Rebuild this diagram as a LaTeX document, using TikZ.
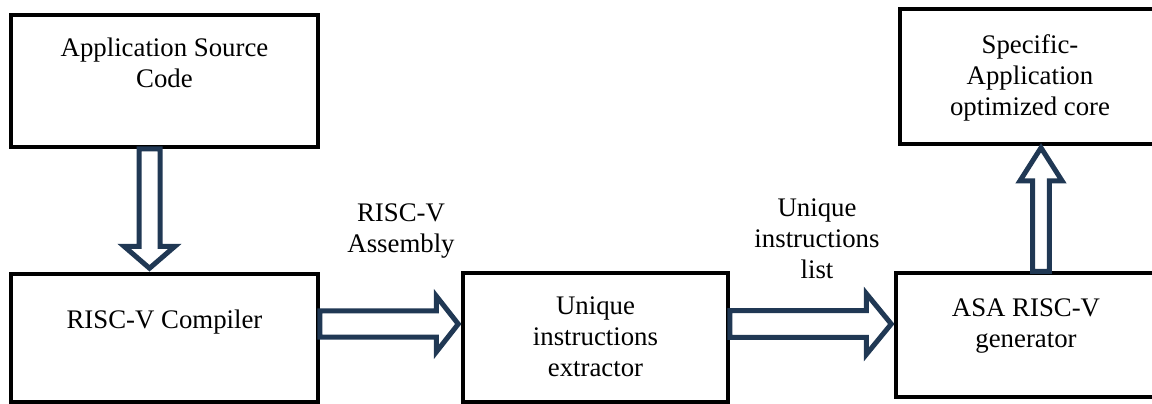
\documentclass[tikz,border=0pt]{standalone}
\usepackage{fontspec}
\newfontfamily\timesfont{Liberation Serif}
\usetikzlibrary{calc}
\definecolor{arrowblue}{RGB}{32,56,84}

% outlined block arrow: start, tip, shaft half-width, head half-width, head length
\newcommand\blockarrow[5]{%
  \coordinate (hb) at ($(#2)!#5!(#1)$);
  \draw[flowarrow]
    ($(#1)!#3!90:(#2)$) -- ($(hb)!#3!-90:(#1)$) -- ($(hb)!#4!-90:(#1)$) -- (#2)
    -- ($(hb)!#4!90:(#1)$) -- ($(hb)!#3!90:(#1)$) -- ($(#1)!#3!-90:(#2)$) -- cycle;
}

\begin{document}
\begin{tikzpicture}[x=1pt,y=-1pt,
  box/.style={draw=black, line width=3.5pt, fill=white, inner sep=0pt},
  txt/.style={align=center, inner sep=0pt, anchor=north,
              font=\timesfont\fontsize{26.8}{31}\selectfont},
  flowarrow/.style={draw=arrowblue, line width=5pt, fill=white, line join=miter}]
\useasboundingbox (0,0) rectangle (1152,404);

% boxes (the two on the right run past the edge of the page)
\node[box, minimum width=307pt, minimum height=132pt] (src)  at (164.5,81)   {};
\node[box, minimum width=307pt, minimum height=128pt] (comp) at (164.5,338)  {};
\node[box, minimum width=265pt, minimum height=129pt] (ext)  at (595.5,337.5) {};
\node[box, minimum width=258pt, minimum height=135pt] (core) at (1029,76.5)  {};
\node[box, minimum width=262pt, minimum height=124pt] (gen)  at (1027,335)   {};

% box texts
\node[txt] (srcT)  at (164.5,37.7)  {Application Source\\Code};
\node[txt] (compT) at (164.5,309.7) {RISC-V Compiler};
\node[txt] (extT)  at (595.5,296.7) {Unique\\instructions\\extractor};
\node[txt] (coreT) at (1030,34.4)   {Specific-\\Application\\optimized core};
\node[txt] (genT)  at (1026,298.7)  {ASA RISC-V\\generator};

% arrow labels
\node[txt] (asmL)  at (401,204)     {RISC-V\\Assembly};
\node[txt] (listL) at (817,198.7)   {Unique\\instructions\\list};

% connectors
\blockarrow{[xshift=-15pt]src.south}{[xshift=-15pt,yshift=4pt]comp.north}{10.5pt}{25.5pt}{22pt}
\blockarrow{[yshift=14pt]comp.east}{[xshift=-3pt,yshift=13.5pt]ext.west}{13.2pt}{28pt}{22pt}
\blockarrow{[yshift=13.5pt]ext.east}{[xshift=-3pt,yshift=11pt]gen.west}{13.3pt}{30.5pt}{25pt}
\blockarrow{[xshift=14pt]gen.north}{[xshift=12pt,yshift=-2pt]core.south}{8.3pt}{21pt}{33pt}
\end{tikzpicture}
\end{document}
